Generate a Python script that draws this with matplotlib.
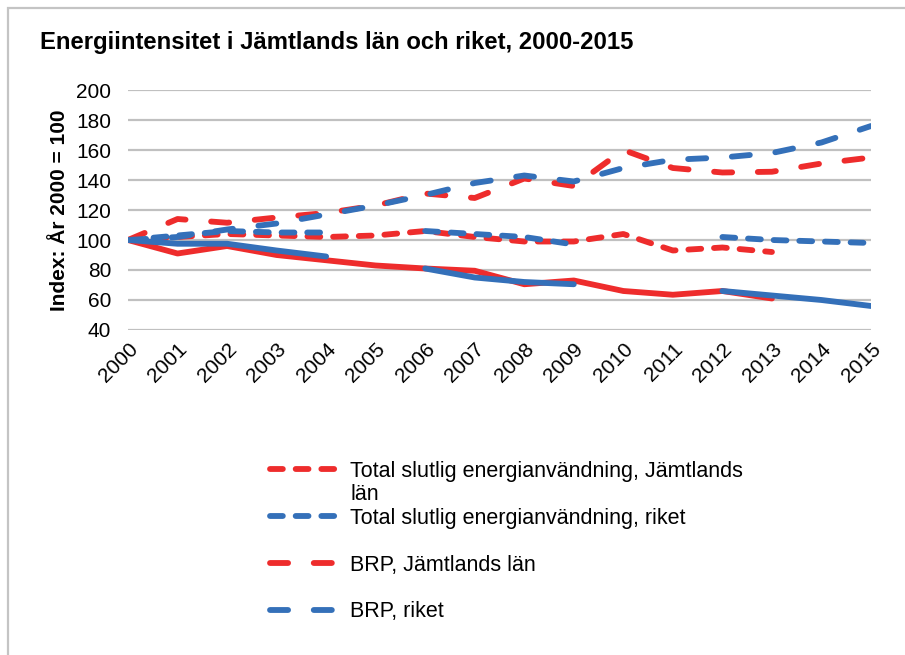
import matplotlib
matplotlib.use("Agg")
import matplotlib.pyplot as plt
import matplotlib.patches as patches
import numpy as np

plt.rcParams['font.family'] = ['Liberation Sans', 'DejaVu Sans']

nan = np.nan
years = list(range(2000, 2016))

# index, year 2000 = 100
total_jamtland = [100, 102, 104, 103, 102, 103, 106, 102, 99, 99, 104, 93, 95, 92, nan, nan]
total_riket = [100, 103, 106, 105, 105, nan, 106, 104, 102, 97, nan, nan, 102, 100, 99, 98]
brp_jamtland = [100, 114, 111.5, 115, 118, 123, 131, 128, 141, 136, 160, 148, 145, 145.5, 151, 155]
brp_riket = [100, 102, 107, 111, 117, 123, 130, 138, 143, 139, 148, 153.5, 155, 158, 165, 176]
intensitet_jamtland = [100, 91, 96, 90, 86.5, 83, 81, 79.5, 70.5, 73, 66, 63.5, 66, 61, nan, nan]
intensitet_riket = [100, 97.5, 97.5, 93, 89, nan, 81, 75, 72, 70.5, nan, nan, 66, 63, 60, 56]

labels = ["Total slutlig energianvändning, Jämtlands",
          "Total slutlig energianvändning, riket",
          "BRP, Jämtlands län",
          "BRP, riket"]

red = '#EE2C2C'
blue = '#3470B9'
lw = 4.2
short = (2.2, 2.2)
long_ = (3.1, 4.4)

fig = plt.figure(figsize=(9.05, 6.55), dpi=100)
ax = fig.add_axes([128/905, 1-330/655, (871-128)/905, (330-90)/655])

kw = dict(lw=lw, dash_capstyle='round', solid_capstyle='round')
l1, = ax.plot(years, total_jamtland, color=red, dashes=short, label=labels[0], **kw)
l2, = ax.plot(years, total_riket, color=blue, dashes=short, label=labels[1], **kw)
l3, = ax.plot(years, brp_jamtland, color=red, dashes=long_, label=labels[2], **kw)
l4, = ax.plot(years, brp_riket, color=blue, dashes=long_, label=labels[3], **kw)
ax.plot(years, intensitet_jamtland, color=red, **kw)
ax.plot(years, intensitet_riket, color=blue, **kw)

ax.set_xlim(2000, 2015)
ax.set_ylim(40, 200)
ax.set_yticks(range(40, 201, 20))
ax.set_xticks(years)
ax.set_xticklabels([str(y) for y in years], rotation=45, ha='right',
                   rotation_mode='anchor', fontsize=15)
ax.tick_params(axis='y', labelsize=15, length=0, pad=12)
ax.tick_params(axis='x', length=0, pad=7)
ax.grid(axis='y', color='#C0C0C0', lw=1.6)
ax.set_axisbelow(True)
for s in ax.spines.values():
    s.set_visible(False)

ax.set_ylabel("Index: År 2000 = 100", fontsize=15, fontweight='bold')
ax.yaxis.set_label_coords(-0.08, 0.5)

fig.text(40/905, 1-42/655, "Energiintensitet i Jämtlands län och riket, 2000-2015",
         fontsize=17.2, fontweight='bold', va='center')

leg = fig.legend(handles=[l1, l2, l3, l4], loc='upper left',
                 bbox_to_anchor=(270/905, 1-461/655), frameon=False,
                 fontsize=15.5, handlelength=3.25, handletextpad=0.47,
                 labelspacing=1.2, borderpad=0, borderaxespad=0)

# second line of the first legend label
fig.canvas.draw()
t = leg.get_texts()
b0 = t[0].get_window_extent()
b1 = t[1].get_window_extent()
ymid = ((b0.y0 + b0.y1) / 2 + (b1.y0 + b1.y1) / 2) / 2
fig.text(b0.x0 / fig.bbox.width, ymid / fig.bbox.height, "län",
         fontsize=15.5, va='center', ha='left')

# gray frame around the chart
fig.patches.append(patches.Rectangle((8/905, -0.2), 1.2, 1 - 8/655 + 0.2,
                                     transform=fig.transFigure, fill=False,
                                     ec='#C4C4C4', lw=1.6))

fig.savefig("out.png", dpi=100)
